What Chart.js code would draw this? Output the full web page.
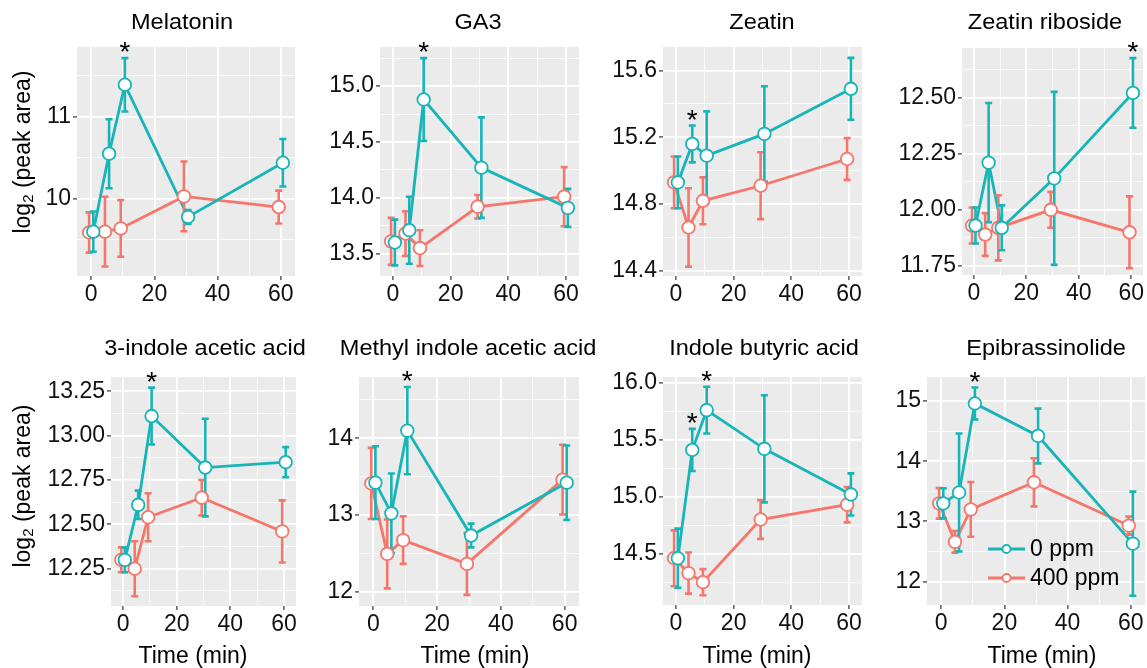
<!DOCTYPE html>
<html>
<head>
<meta charset="utf-8">
<script src="https://cdn.jsdelivr.net/npm/chart.js@4.4.0/dist/chart.umd.min.js"></script>
<style>
  body { margin: 0; background: #fff; width: 1147px; height: 668px; overflow: hidden; position: relative;
         font-family: "Liberation Sans", Arial, sans-serif; }
  canvas { position: absolute; }
  .ttl { position: absolute; white-space: nowrap; color: #000; font-size: 22px; line-height: 22px; transform: translateX(-50%) scaleX(1.07); }
  .xl { position: absolute; white-space: nowrap; color: #000; font-size: 23px; line-height: 23px; transform: translateX(-50%); }
  .yl { position: absolute; white-space: nowrap; color: #000; font-size: 23px; line-height: 23px;
        transform: translate(-50%, -50%) rotate(-90deg); }
  .yl sub { font-size: 15px; vertical-align: -3px; }
</style>
</head>
<body>
<script>
// sampling times (min) and series
const times = [0, 5, 10, 30, 60]
const seriesNames = ["0 ppm", "400 ppm"]
const xTicks = [0, 20, 40, 60]

// mean log2(peak area) and error half-widths
const melatonin0 = [9.60, 10.55, 11.39, 9.78, 10.44]
const melatonin0Err = [0.245, 0.42, 0.325, 0.085, 0.29]
const melatonin400 = [9.59, 9.60, 9.64, 10.03, 9.90]
const melatonin400Err = [0.245, 0.425, 0.345, 0.425, 0.20]
const melatoninSig = [0, 0, 1, 0, 0]

const ga3_0 = [13.60, 13.71, 14.88, 14.27, 13.91]
const ga3_0Err = [0.205, 0.30, 0.37, 0.45, 0.17]
const ga3_400 = [13.61, 13.68, 13.55, 13.92, 14.01]
const ga3_400Err = [0.21, 0.20, 0.16, 0.105, 0.265]
const ga3Sig = [0, 0, 1, 0, 0]

const zeatin0 = [14.93, 15.16, 15.09, 15.22, 15.49]
const zeatin0Err = [0.155, 0.11, 0.265, 0.285, 0.185]
const zeatin400 = [14.93, 14.66, 14.82, 14.91, 15.07]
const zeatin400Err = [0.155, 0.235, 0.14, 0.20, 0.125]
const zeatinSig = [0, 1, 0, 0, 0]

const riboside0 = [11.93, 12.21, 11.92, 12.14, 12.52]
const riboside0Err = [0.08, 0.265, 0.10, 0.385, 0.155]
const riboside400 = [11.93, 11.89, 11.92, 12.00, 11.90]
const riboside400Err = [0.08, 0.095, 0.145, 0.08, 0.16]
const ribosideSig = [0, 0, 0, 0, 1]

const iaa0 = [12.30, 12.61, 13.11, 12.82, 12.85]
const iaa0Err = [0.07, 0.08, 0.16, 0.275, 0.085]
const iaa400 = [12.30, 12.25, 12.54, 12.65, 12.46]
const iaa400Err = [0.07, 0.155, 0.135, 0.10, 0.175]
const iaaSig = [0, 0, 1, 0, 0]

const meiaa0 = [13.42, 13.02, 14.10, 12.73, 13.42]
const meiaa0Err = [0.475, 0.52, 0.57, 0.155, 0.485]
const meiaa400 = [13.41, 12.49, 12.67, 12.36, 13.46]
const meiaa400Err = [0.465, 0.45, 0.31, 0.405, 0.455]
const meiaaSig = [0, 0, 1, 0, 0]

const iba0 = [14.46, 15.41, 15.76, 15.42, 15.02]
const iba0Err = [0.26, 0.185, 0.205, 0.47, 0.185]
const iba400 = [14.46, 14.33, 14.25, 14.80, 14.93]
const iba400Err = [0.245, 0.18, 0.115, 0.17, 0.155]
const ibaSig = [0, 1, 1, 0, 0]

const epi0 = [13.30, 13.48, 14.96, 14.42, 12.63]
const epi0Err = [0.25, 0.98, 0.265, 0.455, 0.865]
const epi400 = [13.30, 12.66, 13.20, 13.65, 12.93]
const epi400Err = [0.255, 0.18, 0.455, 0.40, 0.15]
const epiSig = [0, 0, 1, 0, 0]

const TEAL = "#17b5b8"
const SALMON = "#f5766b"
const FONT = "'Liberation Sans', Arial, sans-serif"
const DODGE = 0.65
const YW = 76, PT = 26, PR = 18, XH = 40

// one entry per facet: y range / breaks + where the panel sits on the page
const panels = [
  { title: "Melatonin", m0: melatonin0, e0: melatonin0Err, m4: melatonin400, e4: melatonin400Err, sig: melatoninSig,
    y: [9.06, 11.85], breaks: [10, 11], dec: 0, box: [77, 47, 295, 276], tx: 182 },
  { title: "GA3", m0: ga3_0, e0: ga3_0Err, m4: ga3_400, e4: ga3_400Err, sig: ga3Sig,
    y: [13.30, 15.35], breaks: [13.5, 14, 14.5, 15], dec: 1, box: [380, 47, 579, 276], tx: 478 },
  { title: "Zeatin", m0: zeatin0, e0: zeatin0Err, m4: zeatin400, e4: zeatin400Err, sig: zeatinSig,
    y: [14.37, 15.74], breaks: [14.4, 14.8, 15.2, 15.6], dec: 1, box: [663, 47, 862, 276], tx: 762 },
  { title: "Zeatin riboside", m0: riboside0, e0: riboside0Err, m4: riboside400, e4: riboside400Err, sig: ribosideSig,
    y: [11.71, 12.72], breaks: [11.75, 12, 12.25, 12.5], dec: 2, box: [962, 48, 1143, 275], tx: 1045 },
  { title: "3-indole acetic acid", m0: iaa0, e0: iaa0Err, m4: iaa400, e4: iaa400Err, sig: iaaSig,
    y: [12.04, 13.33], breaks: [12.25, 12.5, 12.75, 13, 13.25], dec: 2, box: [111, 377, 296, 606], tx: 205, xt: 193 },
  { title: "Methyl indole acetic acid", m0: meiaa0, e0: meiaa0Err, m4: meiaa400, e4: meiaa400Err, sig: meiaaSig,
    y: [11.81, 14.80], breaks: [12, 13, 14], dec: 0, box: [359, 377, 579, 606], tx: 468, xt: 475 },
  { title: "Indole butyric acid", m0: iba0, e0: iba0Err, m4: iba400, e4: iba400Err, sig: ibaSig,
    y: [14.05, 16.05], breaks: [14.5, 15, 15.5, 16], dec: 1, box: [663, 377, 862, 605], tx: 764, xt: 757 },
  { title: "Epibrassinolide", m0: epi0, e0: epi0Err, m4: epi400, e4: epi400Err, sig: epiSig,
    y: [11.61, 15.40], breaks: [12, 13, 14, 15], dec: 0, box: [927, 377, 1145, 605], tx: 1046, xt: 1042, legend: true }
]

// grey ggplot panel
const panelBg = {
  id: "panelBg",
  beforeDraw(chart) {
    const { ctx, chartArea: a } = chart
    ctx.save()
    ctx.fillStyle = "#ebebeb"
    ctx.fillRect(a.left, a.top, a.right - a.left, a.bottom - a.top)
    ctx.restore()
  }
}

// error bars go on top of the lines, under the points
const errorBars = {
  id: "errorBars",
  afterDatasetDraw(chart, args) {
    if (args.index !== 2) return
    const { ctx, scales: { x, y } } = chart
    ctx.save()
    ctx.lineWidth = 2.6
    ;[1, 0].forEach(di => {
      const ds = chart.data.datasets[di]
      ctx.strokeStyle = ds.borderColor
      ds.data.forEach((p, i) => {
        const px = x.getPixelForValue(p.x)
        const top = y.getPixelForValue(p.y + ds.err[i])
        const bot = y.getPixelForValue(p.y - ds.err[i])
        ctx.beginPath()
        ctx.moveTo(px, top); ctx.lineTo(px, bot)
        ctx.moveTo(px - 3.5, top); ctx.lineTo(px + 3.5, top)
        ctx.moveTo(px - 3.5, bot); ctx.lineTo(px + 3.5, bot)
        ctx.stroke()
      })
    })
    ctx.restore()
  },
  afterDatasetsDraw(chart) {
    const { ctx, scales: { x, y } } = chart
    const ds = chart.data.datasets[0]
    ctx.save()
    ctx.fillStyle = "#000"
    ctx.font = "28px " + FONT
    ctx.textAlign = "center"
    ctx.textBaseline = "alphabetic"
    ds.data.forEach((p, i) => {
      if (!ds.sig[i]) return
      ctx.fillText("*", x.getPixelForValue(p.x), y.getPixelForValue(p.y + ds.err[i]) + 3)
    })
    ctx.restore()
  }
}

// legend drawn inside the last facet
const insideLegend = {
  id: "insideLegend",
  afterDraw(chart) {
    const { ctx, chartArea: a } = chart
    const rows = [chart.data.datasets[0], chart.data.datasets[1]]
    ctx.save()
    rows.forEach((ds, i) => {
      const yy = a.bottom - 56 + i * 29
      const x0 = a.left + 61, x1 = a.left + 98
      ctx.strokeStyle = ds.borderColor
      ctx.lineWidth = 3
      ctx.beginPath(); ctx.moveTo(x0, yy); ctx.lineTo(x1, yy); ctx.stroke()
      ctx.fillStyle = "#fff"
      ctx.lineWidth = 1.8
      ctx.beginPath(); ctx.arc((x0 + x1) / 2, yy, 4, 0, Math.PI * 2); ctx.fill(); ctx.stroke()
      ctx.fillStyle = "#000"
      ctx.font = "23px " + FONT
      ctx.textBaseline = "middle"
      ctx.fillText(ds.label, x1 + 5, yy + 1)
    })
    ctx.restore()
  }
}

function addText(cls, html, left, top) {
  const d = document.createElement("div")
  d.className = cls
  d.innerHTML = html
  d.style.left = left + "px"
  d.style.top = top + "px"
  document.body.appendChild(d)
}

function makePanel(p, idx) {
  const [L, T, R, B] = p.box
  const w = YW + (R - L) + PR, h = PT + (B - T) + XH
  const canvas = document.createElement("canvas")
  canvas.width = w; canvas.height = h
  canvas.style.left = (L - YW) + "px"; canvas.style.top = (T - PT) + "px"
  canvas.style.width = w + "px"; canvas.style.height = h + "px"
  document.body.appendChild(canvas)

  const step = p.breaks[1] - p.breaks[0]
  const yTicks = []
  for (let v = p.breaks[0] - step / 2; v <= p.y[1] + 1e-9; v += step / 2) {
    if (v >= p.y[0]) yTicks.push(Math.round(v * 1000) / 1000)
  }
  const isBreak = v => p.breaks.some(b => Math.abs(b - v) < 1e-6)
  const pts = (m, off) => m.map((v, i) => ({ x: times[i] + off, y: v }))

  const pointDs = (label, m, e, color, off) => ({
    label, data: pts(m, off), err: e, showLine: false,
    borderColor: color, backgroundColor: "#fff",
    pointRadius: 6.3, pointBorderWidth: 1.8, pointBackgroundColor: "#fff", pointBorderColor: color
  })
  const lineDs = (m, color, off) => ({
    data: pts(m, off), borderColor: color, borderWidth: 2.8, pointRadius: 0, fill: false, tension: 0
  })

  const d0 = pointDs(seriesNames[0], p.m0, p.e0, TEAL, DODGE)
  d0.sig = p.sig
  const datasets = [
    d0,
    pointDs(seriesNames[1], p.m4, p.e4, SALMON, -DODGE),
    lineDs(p.m0, TEAL, DODGE),
    lineDs(p.m4, SALMON, -DODGE)
  ]

  new Chart(canvas, {
    type: "line",
    data: { datasets },
    plugins: p.legend ? [panelBg, errorBars, insideLegend] : [panelBg, errorBars],
    options: {
      responsive: false,
      animation: false,
      devicePixelRatio: 1,
      layout: { padding: { top: PT, right: PR, left: 0, bottom: 0 } },
      plugins: { legend: { display: false }, tooltip: { enabled: false } },
      scales: {
        x: {
          type: "linear", min: -4.5, max: 64.5,
          afterBuildTicks: s => { s.ticks = [0, 10, 20, 30, 40, 50, 60].map(v => ({ value: v })) },
          afterFit: s => { s.height = XH },
          border: { display: false },
          grid: {
            color: "#fff",
            lineWidth: c => (c.tick && xTicks.includes(c.tick.value)) ? 1.8 : 0.8,
            tickColor: c => (c.tick && xTicks.includes(c.tick.value)) ? "#333" : "rgba(0,0,0,0)",
            tickLength: 4, tickWidth: 1.2
          },
          ticks: {
            autoSkip: false, maxRotation: 0, padding: 1, color: "#111",
            font: { family: FONT, size: 23 },
            callback: v => xTicks.includes(v) ? String(v) : ""
          }
        },
        y: {
          type: "linear", min: p.y[0], max: p.y[1],
          afterBuildTicks: s => { s.ticks = yTicks.map(v => ({ value: v })) },
          afterFit: s => { s.width = YW },
          border: { display: false },
          grid: {
            color: "#fff",
            lineWidth: c => (c.tick && isBreak(c.tick.value)) ? 1.8 : 0.8,
            tickColor: c => (c.tick && isBreak(c.tick.value)) ? "#333" : "rgba(0,0,0,0)",
            tickLength: 4, tickWidth: 1.2
          },
          ticks: {
            autoSkip: false, padding: 2, color: "#111",
            font: { family: FONT, size: 23 },
            callback: v => isBreak(v) ? v.toFixed(p.dec) : ""
          }
        }
      }
    }
  })

  addText("ttl", p.title, p.tx, (idx < 4 ? 22 : 348) - 11)
  if (p.xt) addText("xl", "Time (min)", p.xt, 656 - 12)
}

panels.forEach(makePanel)
addText("yl", "log<sub>2</sub> (peak area)", 25, 152)
addText("yl", "log<sub>2</sub> (peak area)", 25, 486)
</script>
</body>
</html>
